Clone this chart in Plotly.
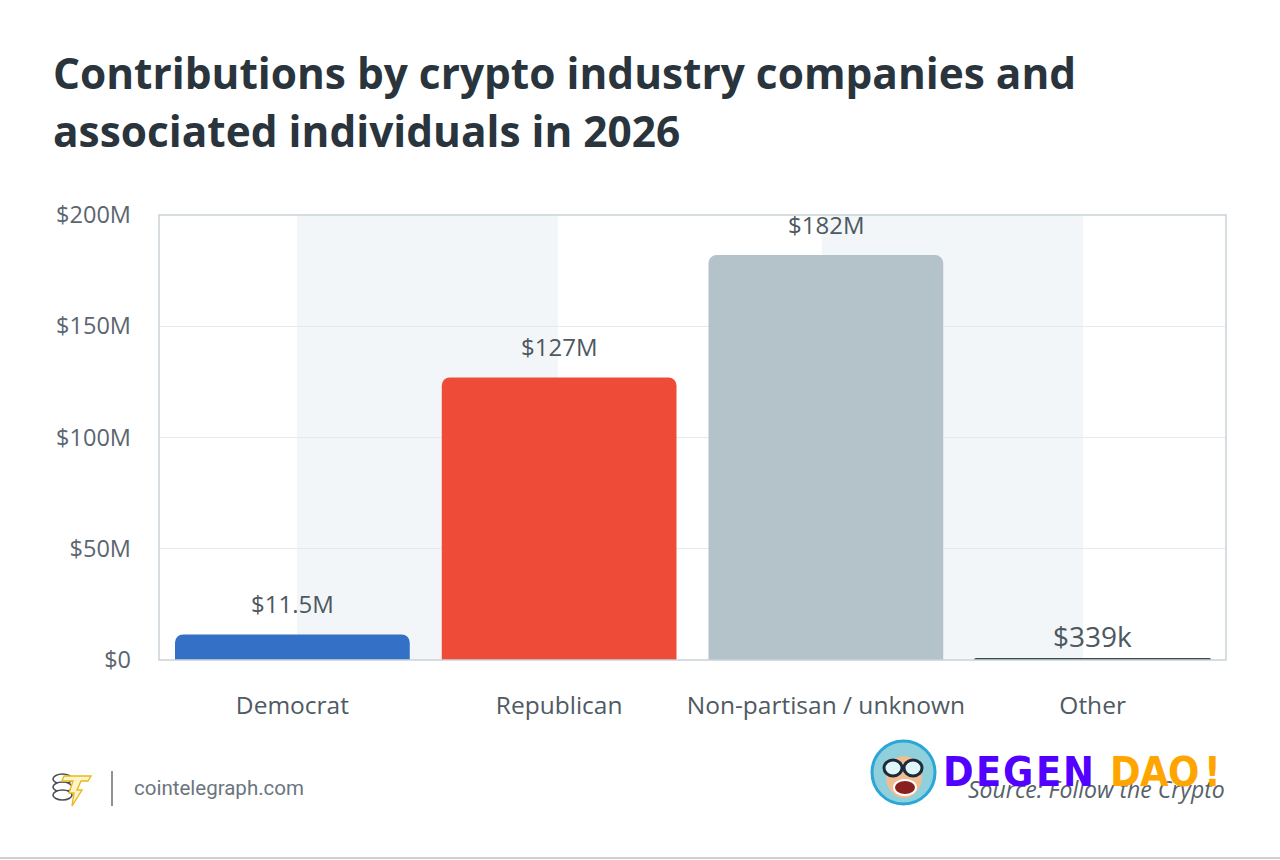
import plotly.graph_objects as go

# ---- data ----
categories = ["Democrat", "Republican", "Non-partisan / unknown", "Other"]
values_musd = [11.5, 127, 182, 0.339]
value_labels = ["$11.5M", "$127M", "$182M", "$339k"]
bar_colors = ["#3470c6", "#ee4c38", "#b4c2ca", "#3f4b54"]
y_tickvals = [0, 50, 100, 150, 200]
y_ticktext = ["$0", "$50M", "$100M", "$150M", "$200M"]

title_lines = ["Contributions by crypto industry companies and",
               "associated individuals in 2026"]

W, H = 1280, 860
L, R, T, B = 159, 1226, 215, 660  # plot area in pixels


def px(x):
    return (x - L) / (R - L)


def py(y):
    return (B - y) / (B - T)


FONT = "Open Sans, Noto Sans, sans-serif"

fig = go.Figure()
fig.add_trace(go.Bar(
    x=categories, y=values_musd,
    marker=dict(color=bar_colors, cornerradius=8,
                line=dict(color=["rgba(0,0,0,0)"] * 3 + ["#3f4b54"],
                          width=[0, 0, 0, 2.4])),
    hoverinfo="skip", showlegend=False,
))

annotations = []
# value labels
for i, (c, v, lab) in enumerate(zip(categories, values_musd, value_labels)):
    big = lab.endswith("k")
    annotations.append(dict(
        x=c, y=v, xref="x", yref="y", text=lab, showarrow=False,
        yanchor="bottom", yshift=2 if big else 12,
        font=dict(family=FONT, size=28 if big else 24, color="#4d5860")))

# title
for i, line in enumerate(title_lines):
    annotations.append(dict(
        x=px(51), y=py(72 + 58 * i), xref="paper", yref="paper",
        xanchor="left", yanchor="middle", showarrow=False,
        text="<b>" + line + "</b>",
        font=dict(family=FONT, size=42.4, color="#2a343d")))

# footer text
annotations.append(dict(
    x=px(132), y=py(788), xref="paper", yref="paper", xanchor="left",
    yanchor="middle", showarrow=False, text="cointelegraph.com",
    font=dict(family="Roboto, Open Sans, sans-serif", size=20.5, color="#6b7580")))
annotations.append(dict(
    x=px(1227), y=py(789), xref="paper", yref="paper", xanchor="right",
    yanchor="middle", showarrow=False,
    text="<i>Source: </i><i>Follow the Crypto</i>",
    font=dict(family=FONT, size=23, color="#56616a")))

# watermark letters
wm_letters = ["D", "E", "G", "E", "N", "D", "A", "O", "!"]
wm_centers = [958, 988, 1018, 1048, 1078, 1125, 1154, 1183, 1212]
wm_colors = ["#5200ff"] * 5 + ["#ffa500"] * 4
for ch, cx, col in zip(wm_letters, wm_centers, wm_colors):
    annotations.append(dict(
        x=px(cx), y=py(772), xref="paper", yref="paper", xanchor="center",
        yanchor="middle", showarrow=False, text="<b>" + ch + "</b>",
        font=dict(family="Liberation Sans Narrow, DejaVu Sans Condensed, sans-serif",
                  size=41, color=col)))

shapes = []
# background bands
for x0, x1 in [(297, 558), (822, 1083)]:
    shapes.append(dict(type="rect", xref="paper", yref="paper",
                       x0=px(x0), x1=px(x1), y0=0, y1=1, layer="below",
                       fillcolor="#f3f6f8", line=dict(width=0)))
# plot border
shapes.append(dict(type="rect", xref="paper", yref="paper", x0=0, x1=1, y0=0, y1=1,
                   line=dict(color="#c9d3d9", width=1.5), layer="above"))
# footer separator
shapes.append(dict(type="line", xref="paper", yref="paper",
                   x0=px(112), x1=px(112), y0=py(771), y1=py(806),
                   line=dict(color="#666f77", width=1.5)))
# page bottom line
shapes.append(dict(type="line", xref="paper", yref="paper",
                   x0=px(0), x1=px(1280), y0=py(858), y1=py(858),
                   line=dict(color="#d0d0d0", width=2)))
# cointelegraph logo: coin stack + lightning T
for k in range(3):
    cy = 779 + 8 * k
    shapes.append(dict(type="circle", xref="paper", yref="paper",
                       x0=px(53), x1=px(72), y0=py(cy - 5), y1=py(cy + 5),
                       line=dict(color="#4a4f55", width=1.6),
                       fillcolor="white"))
bolt = [(64, 776), (91, 776), (88, 781), (81, 781), (77, 790), (82, 790),
        (72, 806), (74, 793), (69, 793), (73, 781), (62, 781)]
path = "M " + " L ".join(f"{px(x)} {py(y)}" for x, y in bolt) + " Z"
shapes.append(dict(type="path", xref="paper", yref="paper", path=path,
                   fillcolor="#fff4c8", line=dict(color="#e8b820", width=1.4)))
# watermark avatar
shapes.append(dict(type="circle", xref="paper", yref="paper",
                   x0=px(872), x1=px(935), y0=py(741), y1=py(804),
                   fillcolor="#8fd0dc", line=dict(color="#2aa7d6", width=3)))
shapes.append(dict(type="circle", xref="paper", yref="paper",
                   x0=px(886), x1=px(922), y0=py(756), y1=py(798),
                   fillcolor="#f0bd92", line=dict(width=0)))
shapes.append(dict(type="circle", xref="paper", yref="paper",
                   x0=px(884), x1=px(902), y0=py(760), y1=py(776),
                   fillcolor="#dff6fb", line=dict(color="#1d2a3a", width=3)))
shapes.append(dict(type="circle", xref="paper", yref="paper",
                   x0=px(904), x1=px(922), y0=py(760), y1=py(776),
                   fillcolor="#dff6fb", line=dict(color="#1d2a3a", width=3)))
shapes.append(dict(type="circle", xref="paper", yref="paper",
                   x0=px(894), x1=px(916), y0=py(780), y1=py(795),
                   fillcolor="#8a1f1f", line=dict(color="#ffffff", width=2)))

fig.update_layout(
    width=W, height=H,
    margin=dict(l=L, r=W - R, t=T, b=H - B, pad=0),
    paper_bgcolor="white", plot_bgcolor="rgba(0,0,0,0)",
    bargap=0.12,
    font=dict(family=FONT, color="#4f5a63"),
    xaxis=dict(showgrid=False, zeroline=False, showline=False,
               ticks="", tickfont=dict(size=24.5, color="#4f5a63"),
               ticklabelstandoff=28, fixedrange=True),
    yaxis=dict(range=[0, 200], tickvals=y_tickvals, ticktext=y_ticktext,
               showgrid=True, gridcolor="#e4eaee", gridwidth=1,
               zeroline=False, showline=False, ticks="",
               tickfont=dict(size=23.5, color="#5b6670"),
               ticklabelstandoff=27, fixedrange=True),
    annotations=annotations, shapes=shapes,
)

fig.write_html("out.html")
